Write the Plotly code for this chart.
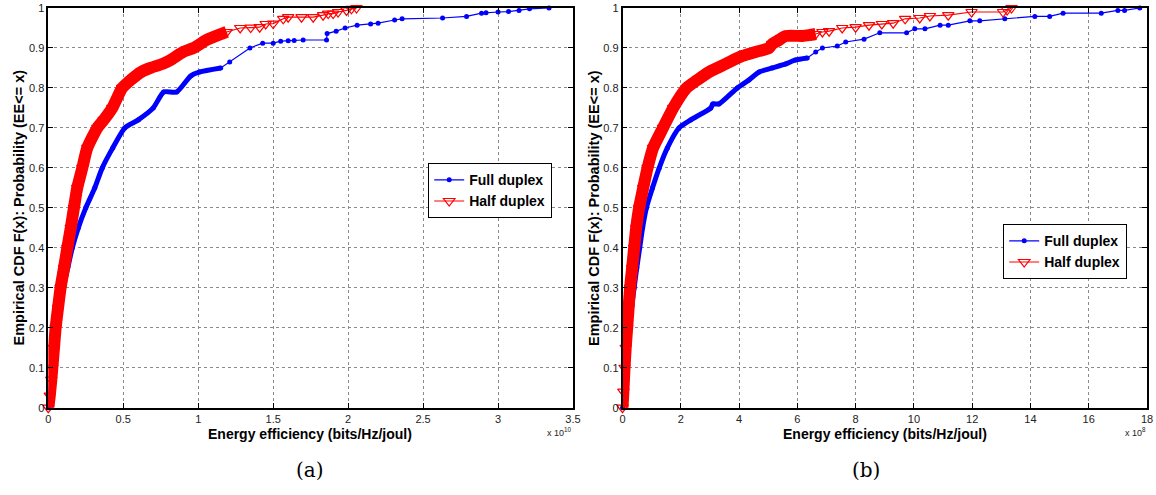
import plotly.graph_objects as go

# (a) energy efficiency, x in units of 1e10 bits/Hz/joul
A_FULL_X = [0.0, 0.01, 0.02, 0.033, 0.05, 0.064, 0.08, 0.10, 0.13, 0.16, 0.20, 0.25, 0.31,
            0.36, 0.43, 0.51, 0.60, 0.70, 0.77, 0.856, 0.95, 1.01, 1.15, 1.21, 1.345, 1.43,
            1.50, 1.55, 1.60, 1.64, 1.70, 1.856, 1.86, 1.92, 1.98, 2.06, 2.15, 2.20, 2.31,
            2.36, 2.63, 2.79, 2.89, 2.92, 3.00, 3.07, 3.14, 3.21, 3.34]
A_FULL_F = [0.0, 0.02, 0.06, 0.10, 0.15, 0.20, 0.25, 0.30, 0.35, 0.40, 0.45, 0.50, 0.55,
            0.60, 0.65, 0.70, 0.72, 0.75, 0.79, 0.79, 0.83, 0.84, 0.85, 0.865, 0.90, 0.912,
            0.912, 0.917, 0.918, 0.919, 0.92, 0.92, 0.936, 0.942, 0.95, 0.957, 0.96, 0.962,
            0.97, 0.973, 0.975, 0.979, 0.987, 0.988, 0.99, 0.991, 0.994, 0.998, 1.0]
A_HALF_X = [0.0, 0.01, 0.02, 0.027, 0.038, 0.049, 0.065, 0.082, 0.105, 0.127, 0.15, 0.171,
            0.193, 0.227, 0.26, 0.327, 0.37, 0.427, 0.493, 0.55, 0.62, 0.682, 0.76, 0.816,
            0.90, 0.97, 1.056, 1.19, 1.28, 1.35, 1.41, 1.45, 1.50, 1.567, 1.60, 1.689, 1.767,
            1.833, 1.867, 1.90, 1.933, 1.989, 2.022, 2.056]
A_HALF_F = [0.0, 0.03, 0.07, 0.10, 0.15, 0.20, 0.25, 0.30, 0.35, 0.40, 0.45, 0.50,
            0.55, 0.60, 0.65, 0.70, 0.72, 0.75, 0.80, 0.82, 0.84, 0.85, 0.86, 0.87,
            0.89, 0.90, 0.92, 0.94, 0.95, 0.951, 0.952, 0.96, 0.961, 0.973, 0.977, 0.977,
            0.977, 0.982, 0.986, 0.986, 0.99, 0.994, 0.998, 1.0]

# (b) energy efficiency, x in units of 1e8 bits/Hz/joul
B_FULL_X = [0.0, 0.05, 0.11, 0.16, 0.23, 0.31, 0.40, 0.49, 0.59, 0.69, 0.82, 1.03, 1.26,
            1.54, 1.94, 2.34, 3.03, 3.10, 3.31, 3.94, 4.34, 4.69, 5.14, 5.60, 5.94, 6.34,
            6.63, 6.86, 7.37, 7.66, 8.29, 8.83, 9.75, 10.03, 10.38, 10.90, 11.18, 11.92,
            12.26, 13.12, 14.15, 14.66, 15.12, 16.43, 17.00, 17.23, 17.75]
B_FULL_F = [0.0, 0.03, 0.10, 0.15, 0.20, 0.25, 0.30, 0.35, 0.40, 0.45, 0.50, 0.55, 0.60,
            0.65, 0.70, 0.72, 0.75, 0.76, 0.76, 0.80, 0.82, 0.84, 0.85, 0.86, 0.87, 0.875,
            0.89, 0.90, 0.905, 0.915, 0.922, 0.938, 0.938, 0.948, 0.948, 0.957, 0.957, 0.968,
            0.968, 0.973, 0.979, 0.979, 0.987, 0.987, 0.994, 0.994, 1.0]
B_HALF_X = [0.0, 0.03, 0.07, 0.11, 0.16, 0.21, 0.26, 0.33, 0.40, 0.47, 0.57, 0.71, 0.86,
            1.05, 1.39, 1.74, 2.20, 2.57, 2.97, 3.54, 4.11, 4.57, 5.03, 5.14, 5.37, 5.60,
            6.17, 6.40, 6.63, 6.86, 7.09, 7.54, 8.00, 8.46, 8.90, 9.29, 9.70, 10.20, 10.55,
            11.18, 11.98, 13.06, 13.20, 13.35]
B_HALF_F = [0.0, 0.04, 0.10, 0.15, 0.20, 0.25, 0.30, 0.35, 0.40, 0.45, 0.50, 0.55, 0.60,
            0.65, 0.70, 0.75, 0.80, 0.82, 0.84, 0.86, 0.88, 0.89, 0.90, 0.91, 0.92, 0.93,
            0.93, 0.932, 0.935, 0.94, 0.942, 0.95, 0.952, 0.957, 0.96, 0.962, 0.973, 0.975, 0.98,
            0.982, 0.99, 0.99, 0.995, 1.0]

A_XTICKS = [0, 0.5, 1, 1.5, 2, 2.5, 3, 3.5]
B_XTICKS = [0, 2, 4, 6, 8, 10, 12, 14, 16, 18]
Y_TICKS = [0, 0.1, 0.2, 0.3, 0.4, 0.5, 0.6, 0.7, 0.8, 0.9, 1]

SERIES_NAMES = ["Full duplex", "Half duplex"]
X_TITLE = "Energy efficiency (bits/Hz/joul)"
Y_TITLE = "Empirical CDF F(x): Probability (EE<= x)"
A_EXPONENT = "x 10<sup>10</sup>"
B_EXPONENT = "x 10<sup>8</sup>"
CAPTIONS = ["(a)", "(b)"]

W, H = 1156, 495
NARROW = "Liberation Sans Narrow, Arial Narrow, Liberation Sans, Arial, sans-serif"
SANS = "Liberation Sans, Arial, sans-serif"
BLUE = "#0000ff"
RED = "#ff0000"


def px_x(p):
    return p / W


def px_y(p):
    return 1 - p / H


def add_cdf(fig, x, f, color, symbol, size, band_width, band_until, name, axes, legend):
    xa, ya = axes
    # the dense part of the sample looks like a solid band of markers
    bx = [v for v, q in zip(x, f) if q <= band_until]
    bf = [q for q in f if q <= band_until]
    fig.add_trace(go.Scatter(
        x=bx, y=bf, mode="lines", xaxis=xa, yaxis=ya,
        line=dict(color=color, width=band_width, shape="spline", smoothing=0.6),
        showlegend=False, hoverinfo="skip",
    ))
    marker = dict(symbol=symbol, size=size, color=color)
    if symbol.endswith("open"):
        marker["line"] = dict(color=color, width=1.2)
    fig.add_trace(go.Scatter(
        x=x, y=f, mode="lines+markers", name=name, xaxis=xa, yaxis=ya,
        line=dict(color=color, width=1.2), marker=marker,
        cliponaxis=False, legend=legend,
    ))


fig = go.Figure()

add_cdf(fig, A_FULL_X, A_FULL_F, BLUE, "circle", 5, 5, 0.86, SERIES_NAMES[0], ("x", "y"), "legend")
add_cdf(fig, A_HALF_X, A_HALF_F, RED, "triangle-down-open", 10, 12, 0.945, SERIES_NAMES[1], ("x", "y"), "legend")
add_cdf(fig, B_FULL_X, B_FULL_F, BLUE, "circle", 5, 5, 0.88, SERIES_NAMES[0], ("x2", "y2"), "legend2")
add_cdf(fig, B_HALF_X, B_HALF_F, RED, "triangle-down-open", 10, 12, 0.935, SERIES_NAMES[1], ("x2", "y2"), "legend2")

axis_style = dict(
    showline=True, linecolor="black", linewidth=1.6, mirror="allticks",
    ticks="inside", ticklen=5, tickwidth=1, tickcolor="black",
    showgrid=True, gridcolor="#8a8a8a", griddash="dot", gridwidth=1,
    zeroline=False, automargin=False, ticklabeloverflow="allow",
    tickfont=dict(family=NARROW, size=11, color="#222"),
)

y_dom = [px_y(407.7), px_y(8)]

legend_style = dict(
    xanchor="left", yanchor="top",
    bordercolor="black", borderwidth=1.2, bgcolor="white",
    font=dict(family=NARROW, size=14, color="black", weight="bold"),
    tracegroupgap=0, itemwidth=30,
)

fig.update_layout(
    width=W, height=H,
    margin=dict(l=0, r=0, t=0, b=0, autoexpand=False),
    paper_bgcolor="white", plot_bgcolor="white",
    xaxis=dict(domain=[px_x(48.3), px_x(573)], range=[0, 3.5], tickvals=A_XTICKS, anchor="y", **axis_style),
    yaxis=dict(domain=y_dom, range=[0, 1], tickvals=Y_TICKS, anchor="x", **axis_style),
    xaxis2=dict(domain=[px_x(622.5), px_x(1147)], range=[0, 18], tickvals=B_XTICKS, anchor="y2", **axis_style),
    yaxis2=dict(domain=y_dom, range=[0, 1], tickvals=Y_TICKS, anchor="x2", **axis_style),
    legend=dict(x=px_x(428), y=px_y(163), **legend_style),
    legend2=dict(x=px_x(1003), y=px_y(224), **legend_style),
    showlegend=True,
)

title_font = dict(family=NARROW, size=14, color="black", weight="bold")
ytitle_font = dict(family=SANS, size=14.5, color="black", weight="bold")
exp_font = dict(family=NARROW, size=9, color="#222")
cap_font = dict(family="DejaVu Serif, Liberation Serif, serif", size=20, color="black")

annotations = [
    dict(x=px_x(310), y=px_y(434), text=X_TITLE, font=title_font),
    dict(x=px_x(885), y=px_y(434), text=X_TITLE, font=title_font),
    dict(x=px_x(18.5), y=px_y(208), text=Y_TITLE, font=ytitle_font, textangle=-90),
    dict(x=px_x(594), y=px_y(208), text=Y_TITLE, font=ytitle_font, textangle=-90),
    dict(x=px_x(574), y=px_y(432), text=A_EXPONENT, font=exp_font, xanchor="right"),
    dict(x=px_x(1148), y=px_y(432), text=B_EXPONENT, font=exp_font, xanchor="right"),
    dict(x=px_x(310), y=px_y(470), text=CAPTIONS[0], font=cap_font),
    dict(x=px_x(866), y=px_y(470), text=CAPTIONS[1], font=cap_font),
]
for a in annotations:
    a.setdefault("xanchor", "center")
    a.update(xref="paper", yref="paper", yanchor="middle", showarrow=False)
fig.update_layout(annotations=annotations)

# drop the default body margin so the figure sits at the window's corner
fig.write_html(
    "out.html",
    config={"displayModeBar": False},
    post_script="document.body.style.margin = '0';",
)
